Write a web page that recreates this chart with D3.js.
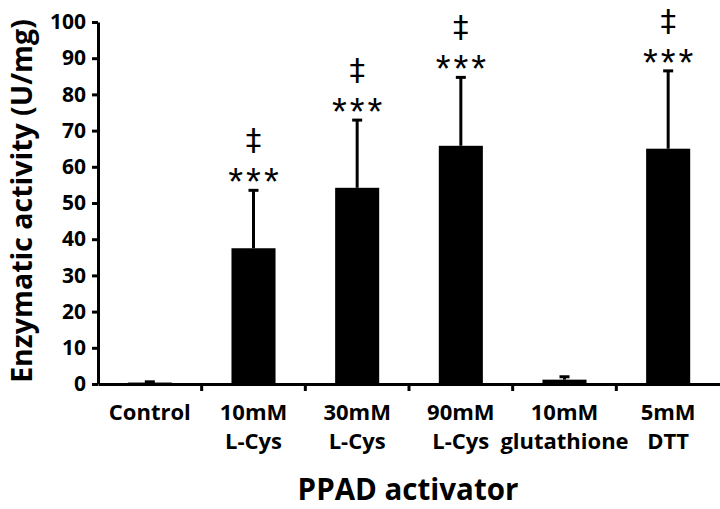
<!DOCTYPE html>
<html><head><meta charset="utf-8">
<script src="https://cdn.jsdelivr.net/npm/d3@7"></script>
<style>body{margin:0;background:#fff}svg{display:block}</style>
</head><body>
<svg id="chart" width="720" height="509"></svg>
<script>
const categories = [["Control"],["10mM","L-Cys"],["30mM","L-Cys"],["90mM","L-Cys"],["10mM","glutathione"],["5mM","DTT"]];
const values = [0.4, 37.5, 54.2, 65.8, 1.2, 65.0];
const errors = [0.2, 16.0, 18.7, 18.9, 0.8, 21.5];
const stars = ["", "***", "***", "***", "", "***"];
const daggers = ["", "‡", "‡", "‡", "", "‡"];
const yTicks = [0,10,20,30,40,50,60,70,80,90,100];

const font = "'Open Sans', sans-serif";
const svg = d3.select("#chart");
const margin = {left: 98, right: 0, top: 22, bottom: 125};
const W = 720, H = 509;
const x = d3.scaleBand().domain(d3.range(categories.length)).range([margin.left, W]).paddingInner(0.575).paddingOuter(0.2875);
const xb = d3.scaleBand().domain(d3.range(categories.length)).range([margin.left, W]);
const y = d3.scaleLinear().domain([0,100]).range([384, 22]);

// bars
svg.selectAll("rect.bar").data(values).enter().append("rect")
  .attr("x", (d,i)=>x(i)).attr("width", x.bandwidth())
  .attr("y", d=>y(d)).attr("height", d=>y(0)-y(d)).attr("fill","#000");

// error bars
const eg = svg.append("g").attr("stroke","#000").attr("stroke-width",3);
values.forEach((v,i)=>{
  const cx = x(i)+x.bandwidth()/2;
  eg.append("line").attr("x1",cx).attr("x2",cx).attr("y1",y(v)).attr("y2",y(v+errors[i]));
  eg.append("line").attr("x1",cx-5).attr("x2",cx+5).attr("y1",y(v+errors[i])).attr("y2",y(v+errors[i]));
});

// annotations
values.forEach((v,i)=>{
  const cx = x(i)+x.bandwidth()/2;
  const top = y(v+errors[i]);
  if (stars[i]) svg.append("text").attr("x",cx+1.5).attr("y",top+5)
    .attr("text-anchor","middle").attr("font-family","'Liberation Sans', Arial, sans-serif")
    .attr("font-size",38).attr("letter-spacing",3).text(stars[i]);
  if (daggers[i]) svg.append("text").attr("x",cx).attr("y",top-40)
    .attr("text-anchor","middle").attr("font-family","'DejaVu Sans', sans-serif")
    .attr("font-size",31).text(daggers[i]);
});

// y axis
const ya = svg.append("g").attr("transform",`translate(${margin.left},0)`)
  .call(d3.axisLeft(y).tickValues(yTicks).tickSize(6).tickSizeOuter(0));
ya.select(".domain").attr("stroke","#000").attr("stroke-width",3);
ya.selectAll(".tick line").attr("stroke","#000").attr("stroke-width",3);
ya.selectAll(".tick text").attr("font-family",font).attr("font-weight","bold").attr("font-size",21).attr("fill","#000").attr("x",-12);

// x axis
const xa = svg.append("g").attr("transform",`translate(0,${y(0)})`)
  .call(d3.axisBottom(xb).tickSize(0).tickSizeOuter(0).tickFormat(""));
xa.select(".domain").attr("stroke","#000").attr("stroke-width",3);
xa.selectAll(".tick").remove();
// tick marks between categories
svg.append("g").selectAll("line").data(d3.range(1,categories.length)).enter().append("line")
  .attr("x1",i=>xb(i)).attr("x2",i=>xb(i)).attr("y1",y(0)).attr("y2",y(0)+7)
  .attr("stroke","#000").attr("stroke-width",3);
// category labels
categories.forEach((lines,i)=>{
  const t = svg.append("text").attr("x", xb(i)+xb.bandwidth()/2).attr("y", 420)
    .attr("text-anchor","middle").attr("font-family",font).attr("font-weight","bold").attr("font-size",22);
  lines.forEach((l,j)=>t.append("tspan").attr("x", xb(i)+xb.bandwidth()/2).attr("dy", j===0?0:29).text(l));
});

// axis titles
svg.append("text").attr("x",408).attr("y",500).attr("text-anchor","middle")
  .attr("font-family",font).attr("font-weight","bold").attr("font-size",29.5).text("PPAD activator");
svg.append("text").attr("transform","translate(31.5,201) rotate(-90)").attr("text-anchor","middle")
  .attr("font-family",font).attr("font-weight","bold").attr("font-size",28.5).text("Enzymatic activity (U/mg)");
</script>
</body></html>
